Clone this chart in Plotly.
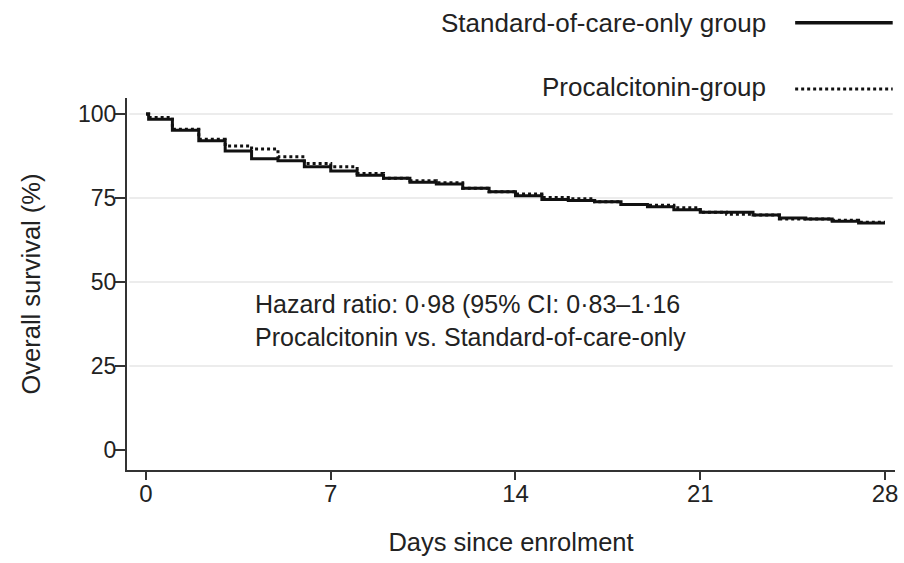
import plotly.graph_objects as go

# Time points (days since enrolment) and Kaplan-Meier survival estimates (%)
days = [0, 0.1] + list(range(1, 29))
standard_of_care = [100, 98.5, 95.2, 92.1, 89.0, 86.7, 86.1, 84.3, 83.1, 81.8, 80.9,
                    79.7, 79.2, 77.9, 76.9, 75.7, 74.6, 74.3, 73.9, 73.1, 72.4,
                    71.5, 70.8, 70.8, 70.0, 69.1, 68.8, 68.1, 67.6, 67.6]
procalcitonin = [100, 99.0, 95.5, 92.5, 90.5, 89.6, 87.3, 85.3, 84.3, 82.3, 80.9,
                 80.2, 79.6, 77.9, 76.9, 76.2, 75.2, 74.8, 73.9, 73.1, 72.9,
                 72.1, 70.8, 70.2, 70.0, 68.8, 68.8, 68.4, 67.8, 67.8]

x_ticks = [0, 7, 14, 21, 28]
y_ticks = [0, 25, 50, 75, 100]
grid_values = [25, 50, 75, 100]

series_names = ["Standard-of-care-only group", "Procalcitonin-group"]
hr_text = ["Hazard ratio: 0·98 (95% CI: 0·83–1·16",
           "Procalcitonin vs. Standard-of-care-only"]

FONT = "Liberation Sans, Arial, Helvetica, sans-serif"
TXT = "#222222"

fig = go.Figure()

fig.add_trace(go.Scatter(
    x=days, y=procalcitonin, mode="lines", line_shape="hv",
    line=dict(color="#111111", width=3, dash="dot"),
    name=series_names[1], showlegend=False, hoverinfo="x+y"))
fig.add_trace(go.Scatter(
    x=days, y=standard_of_care, mode="lines", line_shape="hv",
    line=dict(color="#111111", width=3),
    name=series_names[0], showlegend=False, hoverinfo="x+y"))

shapes = []
for g in grid_values:
    shapes.append(dict(type="line", xref="paper", x0=0.003, x1=0.997, yref="y", y0=g, y1=g,
                       line=dict(color="#e6e6e6", width=1.5), layer="below"))

# custom legend (text left, sample right)
shapes.append(dict(type="line", xref="paper", yref="paper", x0=0.870, x1=0.997,
                   y0=1.2024, y1=1.2024, line=dict(color="#111111", width=3.5)))
shapes.append(dict(type="line", xref="paper", yref="paper", x0=0.870, x1=0.997,
                   y0=1.024, y1=1.024, line=dict(color="#111111", width=3, dash="dot")))

annotations = [
    dict(text=series_names[0], xref="paper", yref="paper", x=0.8346, y=1.2016,
         xanchor="right", yanchor="middle", showarrow=False,
         font=dict(family=FONT, size=26, color=TXT)),
    dict(text=series_names[1], xref="paper", yref="paper", x=0.8346, y=1.0296,
         xanchor="right", yanchor="middle", showarrow=False,
         font=dict(family=FONT, size=26, color=TXT)),
    dict(text="<br>".join(hr_text), xref="x", yref="y", x=4.05, y=38.7,
         xanchor="left", yanchor="middle", align="left", showarrow=False,
         font=dict(family=FONT, size=25, color=TXT)),
]

fig.update_layout(
    width=904, height=563,
    margin=dict(l=127, r=9, t=98, b=93, autoexpand=False),
    paper_bgcolor="white", plot_bgcolor="white",
    font=dict(family=FONT, size=25, color=TXT),
    shapes=shapes, annotations=annotations,
    showlegend=False,
)
fig.update_xaxes(
    range=[-0.72, 28.38], tickvals=x_ticks, ticktext=[str(v) for v in x_ticks],
    showgrid=False, zeroline=False, showline=True, linecolor="#333333", linewidth=2,
    ticks="outside", ticklen=8, tickwidth=2, tickcolor="#333333",
    tickfont=dict(family=FONT, size=24, color=TXT), ticklabelstandoff=-7,
    title=dict(text="Days since enrolment", font=dict(family=FONT, size=25.5, color=TXT), standoff=27),
    automargin=False,
)
fig.update_yaxes(
    range=[-5.95, 104.8], tickvals=y_ticks, ticktext=[str(v) for v in y_ticks],
    showgrid=False, zeroline=False, showline=True, linecolor="#333333", linewidth=2,
    ticks="outside", ticklen=10, tickwidth=2, tickcolor="#333333",
    tickfont=dict(family=FONT, size=23, color=TXT), ticklabelstandoff=-6,
    title=dict(text="Overall survival (%)", font=dict(family=FONT, size=25.5, color=TXT), standoff=30),
    automargin=False,
)

fig.write_html("out.html", config={"displayModeBar": False},
               post_script="document.body.style.margin='0';")
